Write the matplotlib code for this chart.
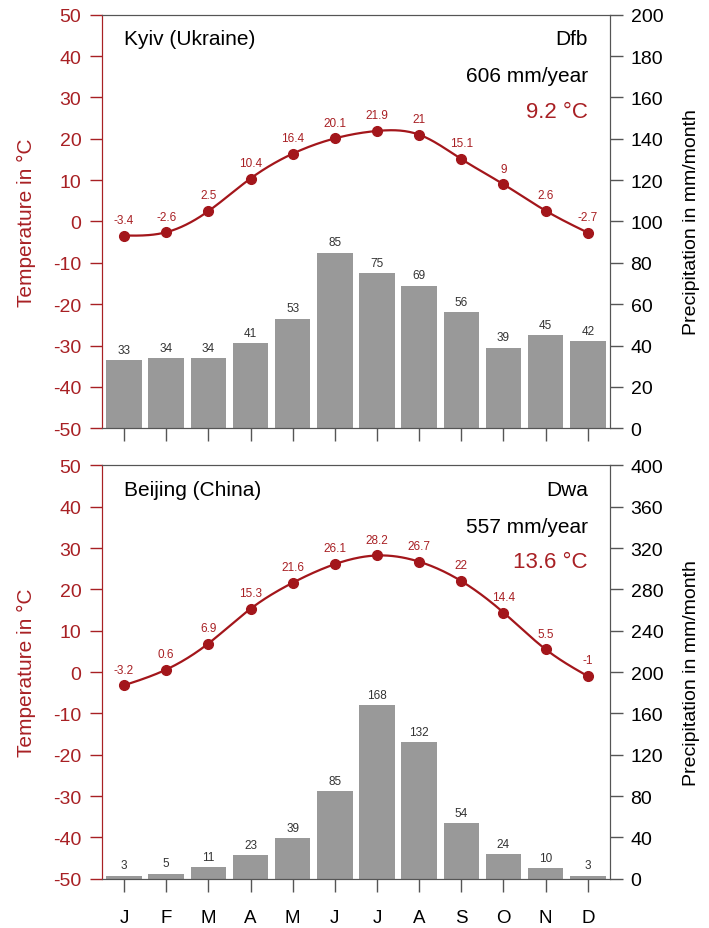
import matplotlib
matplotlib.use("Agg")
import matplotlib.pyplot as plt
import numpy as np

plt.rcParams["font.family"] = ["Liberation Sans", "DejaVu Sans"]
plt.rcParams["axes.unicode_minus"] = False

MONTHS = ["J", "F", "M", "A", "M", "J", "J", "A", "S", "O", "N", "D"]

KYIV_TEMP = [-3.4, -2.6, 2.5, 10.4, 16.4, 20.1, 21.9, 21, 15.1, 9, 2.6, -2.7]
KYIV_PREC = [33, 34, 34, 41, 53, 85, 75, 69, 56, 39, 45, 42]
BEIJING_TEMP = [-3.2, 0.6, 6.9, 15.3, 21.6, 26.1, 28.2, 26.7, 22, 14.4, 5.5, -1]
BEIJING_PREC = [3, 5, 11, 23, 39, 85, 168, 132, 54, 24, 10, 3]

RED = "#A3161B"
RED_TXT = "#A82024"
GREY_BAR = "#999999"
SPINE = "#555555"


def natural_spline(x, y, xs):
    """Natural cubic spline through (x, y), evaluated at xs (for a smooth line)."""
    x = np.asarray(x, float)
    y = np.asarray(y, float)
    n = len(x)
    h = np.diff(x)
    A = np.zeros((n, n))
    b = np.zeros(n)
    A[0, 0] = A[-1, -1] = 1
    for i in range(1, n - 1):
        A[i, i - 1] = h[i - 1]
        A[i, i] = 2 * (h[i - 1] + h[i])
        A[i, i + 1] = h[i]
        b[i] = 3 * ((y[i + 1] - y[i]) / h[i] - (y[i] - y[i - 1]) / h[i - 1])
    c = np.linalg.solve(A, b)
    out = np.empty_like(xs)
    for k, xv in enumerate(xs):
        i = min(max(np.searchsorted(x, xv) - 1, 0), n - 2)
        dx = xv - x[i]
        bi = (y[i + 1] - y[i]) / h[i] - h[i] * (2 * c[i] + c[i + 1]) / 3
        di = (c[i + 1] - c[i]) / (3 * h[i])
        out[k] = y[i] + bi * dx + c[i] * dx ** 2 + di * dx ** 3
    return out


def panel(fig, rect, name, climate, annual, mean_t, temp, prec, pmax, pstep, show_x):
    ax = fig.add_axes(rect)
    ax2 = ax.twinx()
    ax.set_zorder(ax2.get_zorder() + 1)
    ax.patch.set_visible(False)

    x = np.arange(1, 13)
    ax2.bar(x, prec, width=0.84, color=GREY_BAR, edgecolor="none")
    for xi, p in zip(x, prec):
        ax2.annotate(f"{p}", (xi, p), xytext=(0, 3), textcoords="offset points",
                     ha="center", va="bottom", fontsize=8.5, color="#333333")
    ax2.set_ylim(0, pmax)
    ax2.set_yticks(np.arange(0, pmax + 1, pstep))
    ax2.set_ylabel("Precipitation in mm/month", fontsize=14, labelpad=14)
    ax2.tick_params(axis="y", direction="out", length=9, width=1, colors=SPINE,
                    labelcolor="black", labelsize=14, pad=6)

    xs = np.linspace(1, 12, 300)
    ax.plot(xs, natural_spline(x, temp, xs), color=RED, lw=1.6)
    ax.plot(x, temp, "o", color=RED, ms=7)
    for xi, t in zip(x, temp):
        ax.annotate(f"{t:g}", (xi, t), xytext=(0, 7), textcoords="offset points",
                    ha="center", va="bottom", fontsize=8.5, color=RED_TXT)
    ax.set_xlim(0.48, 12.52)
    ax.set_ylim(-50, 50)
    ax.set_yticks(np.arange(-50, 51, 10))
    ax.set_ylabel("Temperature in °C", fontsize=15, color=RED_TXT, labelpad=12)
    ax.tick_params(axis="y", direction="out", length=9, width=1, colors=RED_TXT,
                   labelsize=14, pad=6)
    ax.set_xticks(x)
    ax.tick_params(axis="x", direction="out", length=9, width=1, colors=SPINE,
                   labelcolor="black", labelsize=13.5, pad=13)
    ax.set_xticklabels(MONTHS if show_x else [])

    for a in (ax, ax2):
        for s in ("top", "right", "bottom"):
            a.spines[s].set_color(SPINE)
        a.spines["left"].set_color(RED_TXT)

    ax.text(0.043, 0.942, name, transform=ax.transAxes, fontsize=15,
            ha="left", va="center")
    ax.text(0.957, 0.942, climate, transform=ax.transAxes, fontsize=15,
            ha="right", va="center")
    ax.text(0.957, 0.852, annual, transform=ax.transAxes, fontsize=15,
            ha="right", va="center")
    ax.text(0.957, 0.767, mean_t, transform=ax.transAxes, fontsize=16,
            ha="right", va="center", color=RED_TXT)


fig = plt.figure(figsize=(7.09, 9.29), dpi=100)
panel(fig, [0.144, 0.538, 0.716, 0.445], "Kyiv (Ukraine)", "Dfb", "606 mm/year",
      "9.2 °C", KYIV_TEMP, KYIV_PREC, 200, 20, False)
panel(fig, [0.144, 0.053, 0.716, 0.445], "Beijing (China)", "Dwa", "557 mm/year",
      "13.6 °C", BEIJING_TEMP, BEIJING_PREC, 400, 40, True)

fig.savefig("out.png", dpi=100)
